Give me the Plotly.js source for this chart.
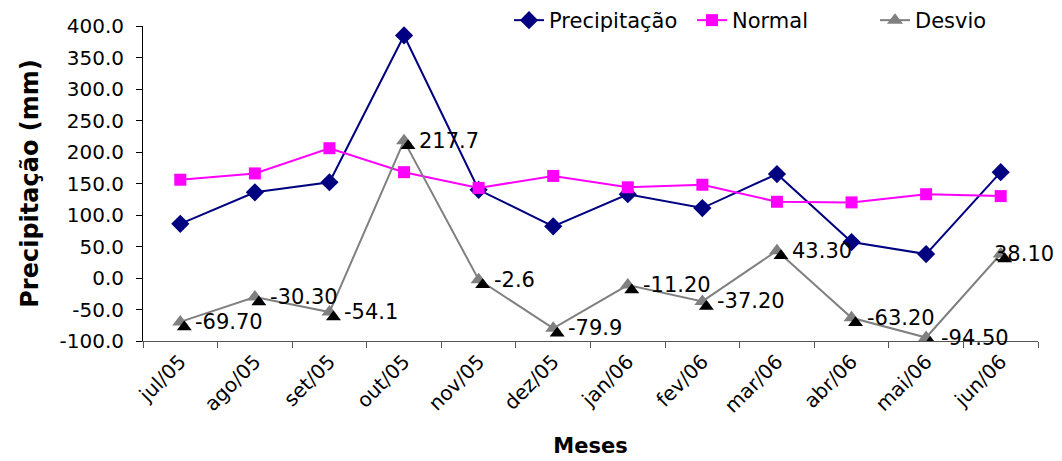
<!DOCTYPE html>
<html>
<head>
<meta charset="utf-8">
<script src="https://cdn.plot.ly/plotly-3.0.1.min.js"></script>
<style>html,body{margin:0;padding:0;background:#fff;}#chart{width:1062px;height:461px;}</style>
</head>
<body>
<div id="chart"></div>
<script>
var months = ["jul/05","ago/05","set/05","out/05","nov/05","dez/05","jan/06","fev/06","mar/06","abr/06","mai/06","jun/06"];
var precipitacao = [86, 136, 152, 385, 140, 82, 133, 111, 165, 57, 38, 168];
var normal = [156, 166, 206, 168, 143, 162, 144, 148, 121, 120, 133, 130];
var desvio = [-69.7, -30.3, -54.1, 217.7, -2.6, -79.9, -11.2, -37.2, 43.3, -63.2, -94.5, 38.1];
var desvioLabels = ["-69.70","-30.30","-54.1","217.7","-2.6","-79.9","-11.20","-37.20","43.30","-63.20","-94.50","38.10"];
var yTickVals = [-100, -50, 0, 50, 100, 150, 200, 250, 300, 350, 400];
var yTickText = ["-100.0","-50.0","0.0","50.0","100.0","150.0","200.0","250.0","300.0","350.0","400.0"];

var FONT = "DejaVu Sans";
var xRange = [-0.5, 11.5];
var yRange = [-100, 400];
// shadow offset (in pixels) for the Desvio markers, converted to axis units
var plotW = 1038 - 143, plotH = 341 - 26;
var dx = 4 / (plotW / 12), dy = 5 / (plotH / 500);

var traces = [
  {
    x: months, y: desvio, xaxis: 'x2', yaxis: 'y2', type: 'scatter', mode: 'markers',
    marker: {symbol: 'triangle-up', size: 13, color: '#000000'},
    showlegend: false, hoverinfo: 'skip'
  },
  {
    x: months, y: precipitacao, name: 'Precipitação', type: 'scatter', mode: 'lines+markers',
    line: {color: '#000080', width: 2},
    marker: {symbol: 'diamond', size: 14, color: '#000080'}
  },
  {
    x: months, y: normal, name: 'Normal', type: 'scatter', mode: 'lines+markers',
    line: {color: '#FF00FF', width: 2},
    marker: {symbol: 'square', size: 12, color: '#FF00FF'}
  },
  {
    x: months, y: desvio, name: 'Desvio', type: 'scatter', mode: 'lines+markers',
    line: {color: '#808080', width: 2},
    marker: {symbol: 'triangle-up', size: 14, color: '#808080'}
  }
];

var annotations = months.map(function (m, i) {
  var last = i === months.length - 1;
  return {
    x: m, y: desvio[i], xref: 'x', yref: 'y', text: desvioLabels[i],
    showarrow: false, xanchor: 'left', yanchor: 'middle',
    xshift: last ? -9 : 13, yshift: 0,
    font: {family: FONT, size: 21, color: '#000'}
  };
});

var layout = {
  width: 1062, height: 461,
  margin: {l: 143, r: 24, t: 26, b: 120, autoexpand: false},
  paper_bgcolor: '#fff', plot_bgcolor: '#fff',
  font: {family: FONT, color: '#000'},
  showlegend: true,
  legend: {
    orientation: 'h', xref: 'container', yref: 'container',
    x: 1058 / 1062, xanchor: 'right', y: 1, yanchor: 'top',
    font: {family: FONT, size: 21, color: '#000'},
    bgcolor: 'rgba(0,0,0,0)', traceorder: 'normal', entrywidth: 138
  },
  xaxis: {
    type: 'category', categoryorder: 'array', categoryarray: months,
    range: xRange, showgrid: false, zeroline: false, automargin: false,
    showline: true, linecolor: '#555', linewidth: 1,
    ticks: 'outside', tickson: 'boundaries', ticklen: 6, tickcolor: '#555',
    tickangle: -45, tickfont: {family: FONT, size: 20, color: '#000'},
    title: {text: 'Meses', font: {family: FONT, size: 21, color: '#000', weight: 'bold'}, standoff: 21},
    fixedrange: true
  },
  yaxis: {
    range: yRange, tickvals: yTickVals, ticktext: yTickText,
    showgrid: false, zeroline: false, automargin: false,
    showline: true, linecolor: '#000', linewidth: 1,
    ticks: 'outside', ticklen: 6, tickcolor: '#000', ticklabelstandoff: 8,
    tickfont: {family: FONT, size: 20, color: '#000'},
    title: {text: 'Precipitação (mm)', font: {family: FONT, size: 24, color: '#000', weight: 'bold'}, standoff: 14},
    fixedrange: true
  },
  xaxis2: {
    type: 'category', categoryorder: 'array', categoryarray: months,
    overlaying: 'x', range: [xRange[0] - dx, xRange[1] - dx], visible: false, fixedrange: true
  },
  yaxis2: {
    overlaying: 'y', range: [yRange[0] + dy, yRange[1] + dy], visible: false, fixedrange: true
  },
  annotations: annotations
};

Plotly.newPlot('chart', traces, layout, {displayModeBar: false, staticPlot: true});
</script>
</body>
</html>
